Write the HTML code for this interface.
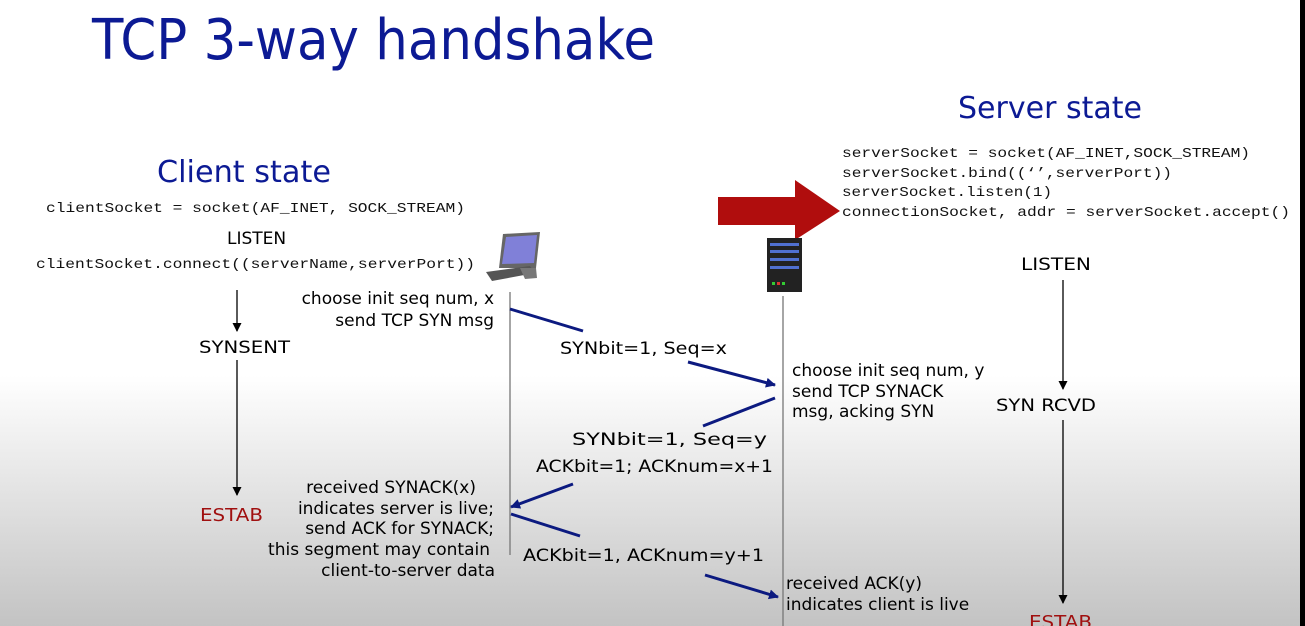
<!DOCTYPE html>
<html><head><meta charset="utf-8"><style>
html,body{margin:0;padding:0;width:1305px;height:626px;overflow:hidden}
svg{display:block}
.t{font-family:"DejaVu Sans",sans-serif}
.m{font-family:"Liberation Mono",monospace;font-size:14px;fill:#111}
.s{font-family:"DejaVu Sans",sans-serif;font-size:17px;fill:#000}
</style></head><body>
<svg width="1305" height="626" viewBox="0 0 1305 626" xmlns="http://www.w3.org/2000/svg">
<defs>
<linearGradient id="bg" x1="0" y1="0" x2="0" y2="1">
<stop offset="0" stop-color="#ffffff"/><stop offset="0.6" stop-color="#ffffff"/><stop offset="1" stop-color="#c3c3c3"/>
</linearGradient>
<marker id="ab" markerWidth="10" markerHeight="10" refX="9" refY="5" orient="auto" markerUnits="userSpaceOnUse"><path d="M0,0 L10,5 L0,10 Z" fill="#0c1a80"/></marker>
<marker id="ak" markerWidth="9" markerHeight="9" refX="8" refY="4.5" orient="auto" markerUnits="userSpaceOnUse"><path d="M0,0 L9,4.5 L0,9 Z" fill="#000"/></marker>
</defs>
<rect width="1305" height="626" fill="url(#bg)"/>
<rect x="1300" y="0" width="5" height="626" fill="#000"/>

<text class="t" x="92" y="59" font-size="56" fill="#0c1a94" textLength="563" lengthAdjust="spacingAndGlyphs">TCP 3-way handshake</text>
<text class="t" x="157" y="182" font-size="30" fill="#0c1a94" textLength="174" lengthAdjust="spacingAndGlyphs">Client state</text>
<text class="t" x="958" y="118" font-size="30" fill="#0c1a94" textLength="184" lengthAdjust="spacingAndGlyphs">Server state</text>

<text class="m" x="46" y="212" textLength="419" lengthAdjust="spacingAndGlyphs">clientSocket = socket(AF_INET, SOCK_STREAM)</text>
<text class="s" x="227" y="244">LISTEN</text>
<text class="m" x="36" y="268" textLength="439" lengthAdjust="spacingAndGlyphs">clientSocket.connect((serverName,serverPort))</text>

<text class="m" x="842" y="157" textLength="408" lengthAdjust="spacingAndGlyphs">serverSocket = socket(AF_INET,SOCK_STREAM)</text>
<text class="m" x="842" y="177" textLength="330" lengthAdjust="spacingAndGlyphs">serverSocket.bind((‘’,serverPort))</text>
<text class="m" x="842" y="196" textLength="210" lengthAdjust="spacingAndGlyphs">serverSocket.listen(1)</text>
<text class="m" x="842" y="216" textLength="448" lengthAdjust="spacingAndGlyphs">connectionSocket, addr = serverSocket.accept()</text>

<path d="M718,197 H795 V180 L840,211 L795,240 V225 H718 Z" fill="#b00d0d"/>

<g>
<path d="M503,234 L540,232 L536,268 L499,268 Z" fill="#666"/>
<path d="M506,237 L537,235 L534,263 L502,264 Z" fill="#8080d8"/>
<path d="M486,272 L530,266 L535,273 L492,281 Z" fill="#555"/>
<path d="M520,268 L536,268 L537,278 L525,279 Z" fill="#777"/>
</g>
<g>
<rect x="767" y="238" width="35" height="54" fill="#222"/>
<rect x="770" y="243" width="29" height="3" fill="#5070d0"/>
<rect x="770" y="250" width="29" height="3" fill="#5070d0"/>
<rect x="770" y="258" width="29" height="3" fill="#5070d0"/>
<rect x="770" y="266" width="29" height="3" fill="#5070d0"/>
<rect x="772" y="282" width="3" height="3" fill="#3c3"/><rect x="777" y="282" width="3" height="3" fill="#d33"/><rect x="782" y="282" width="3" height="3" fill="#3c3"/>
</g>

<line x1="510" y1="292" x2="510" y2="555" stroke="#777" stroke-width="1.3"/>
<line x1="783" y1="296" x2="783" y2="626" stroke="#777" stroke-width="1.3"/>

<line x1="237" y1="290" x2="237" y2="331" stroke="#000" stroke-width="1.3" marker-end="url(#ak)"/>
<text class="s" x="199" y="353" textLength="91" lengthAdjust="spacingAndGlyphs">SYNSENT</text>
<line x1="237" y1="360" x2="237" y2="495" stroke="#000" stroke-width="1.3" marker-end="url(#ak)"/>
<text class="t" x="200" y="521" font-size="18" fill="#a01010" textLength="63" lengthAdjust="spacingAndGlyphs">ESTAB</text>

<text class="s" x="1021" y="270" textLength="70" lengthAdjust="spacingAndGlyphs">LISTEN</text>
<line x1="1063" y1="280" x2="1063" y2="389" stroke="#000" stroke-width="1.3" marker-end="url(#ak)"/>
<text class="s" x="996" y="411" textLength="100" lengthAdjust="spacingAndGlyphs">SYN RCVD</text>
<line x1="1063" y1="420" x2="1063" y2="603" stroke="#000" stroke-width="1.3" marker-end="url(#ak)"/>
<text class="t" x="1029" y="628" font-size="18" fill="#a01010" textLength="63" lengthAdjust="spacingAndGlyphs">ESTAB</text>

<text class="s" x="494" y="304" text-anchor="end">choose init seq num, x</text>
<text class="s" x="494" y="326" text-anchor="end">send TCP SYN msg</text>
<line x1="510" y1="309" x2="583" y2="331" stroke="#0c1a80" stroke-width="3"/>
<text class="s" x="560" y="354" textLength="167" lengthAdjust="spacingAndGlyphs">SYNbit=1, Seq=x</text>
<line x1="688" y1="362" x2="775" y2="385" stroke="#0c1a80" stroke-width="3" marker-end="url(#ab)"/>

<text class="s" x="792" y="376">choose init seq num, y</text>
<text class="s" x="792" y="397">send TCP SYNACK</text>
<text class="s" x="792" y="417">msg, acking SYN</text>

<line x1="775" y1="398" x2="703" y2="426" stroke="#0c1a80" stroke-width="3"/>
<text class="s" x="572" y="445" textLength="195" lengthAdjust="spacingAndGlyphs">SYNbit=1, Seq=y</text>
<text class="s" x="536" y="472" textLength="237" lengthAdjust="spacingAndGlyphs">ACKbit=1; ACKnum=x+1</text>
<line x1="573" y1="484" x2="511" y2="507" stroke="#0c1a80" stroke-width="3" marker-end="url(#ab)"/>

<text class="s" x="476" y="493" text-anchor="end">received SYNACK(x)</text>
<text class="s" x="494" y="514" text-anchor="end">indicates server is live;</text>
<text class="s" x="494" y="534" text-anchor="end">send ACK for SYNACK;</text>
<text class="s" x="490" y="555" text-anchor="end">this segment may contain</text>
<text class="s" x="495" y="576" text-anchor="end">client-to-server data</text>

<line x1="511" y1="514" x2="580" y2="536" stroke="#0c1a80" stroke-width="3"/>
<text class="s" x="523" y="561" textLength="241" lengthAdjust="spacingAndGlyphs">ACKbit=1, ACKnum=y+1</text>
<line x1="705" y1="575" x2="778" y2="597" stroke="#0c1a80" stroke-width="3" marker-end="url(#ab)"/>

<text class="s" x="786" y="589">received ACK(y)</text>
<text class="s" x="786" y="610">indicates client is live</text>
</svg>
</body></html>
